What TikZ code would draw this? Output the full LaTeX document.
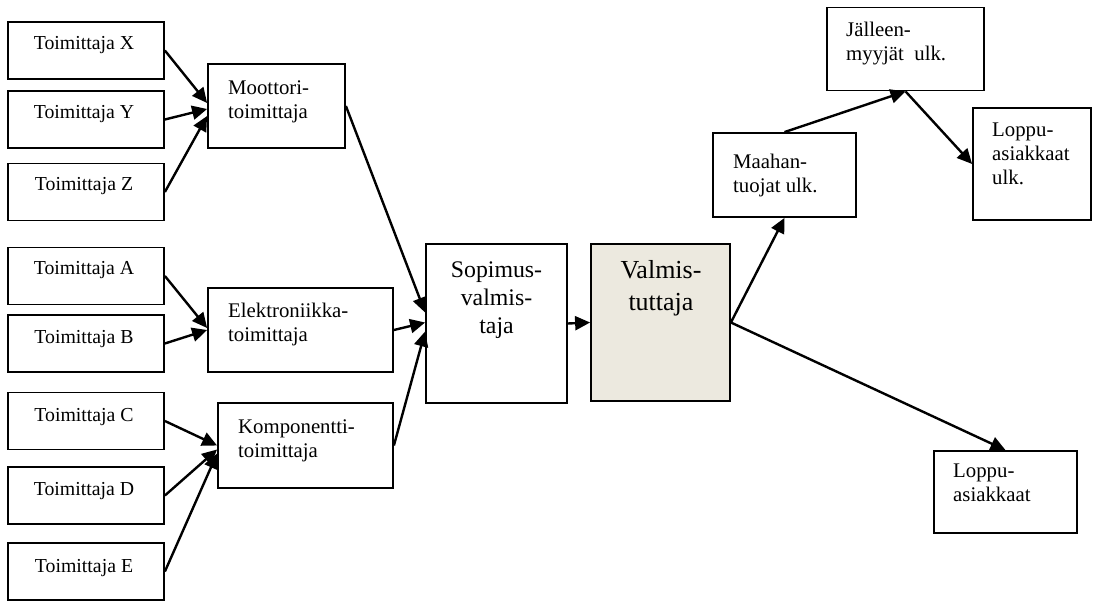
\documentclass[tikz,border=0pt]{standalone}
\usepackage{fontspec}
\setmainfont{Liberation Serif}
\usetikzlibrary{arrows.meta,calc}
\definecolor{beige}{RGB}{236,233,223}
\tikzset{
  box/.style={draw=black, line width=1.8pt, rectangle, inner sep=0pt},
  conn/.style={line width=2.4pt, -{Triangle[length=15pt,width=14pt]}},
  smalltxt/.style={font=\fontsize{19.8}{22}\selectfont, anchor=base, inner sep=0pt},
  midtxt/.style={font=\fontsize{20.8}{24}\selectfont, anchor=base west, inner sep=0pt},
  suptxt/.style={font=\fontsize{23.8}{28}\selectfont, anchor=base, inner sep=0pt},
  bigtxt/.style={font=\fontsize{26}{32}\selectfont, anchor=base, inner sep=0pt},
  sup/.style={box, minimum width=156pt, minimum height=57pt},
}
\begin{document}
\begin{tikzpicture}[x=1pt,y=-1pt]
\useasboundingbox (0,0) rectangle (1094,601);

% suppliers
\node[sup] (tx) at (86,50.5) {};
\node[smalltxt] (txl) at (84,50) {Toimittaja X};
\node[sup] (ty) at (86,119.5) {};
\node[smalltxt] (tyl) at (84,119) {Toimittaja Y};
\node[sup] (tz) at (86,192) {};
\node[smalltxt] (tzl) at (84,191) {Toimittaja Z};
\node[sup] (ta) at (86,276) {};
\node[smalltxt] (tal) at (84,275) {Toimittaja A};
\node[sup] (tb) at (86,343.5) {};
\node[smalltxt] (tbl) at (84,343) {Toimittaja B};
\node[sup] (tc) at (86,421) {};
\node[smalltxt] (tcl) at (84,421) {Toimittaja C};
\node[sup] (td) at (86,495.5) {};
\node[smalltxt] (tdl) at (84,495) {Toimittaja D};
\node[sup] (te) at (86,571.5) {};
\node[smalltxt] (tel) at (84,572) {Toimittaja E};

% second tier
\node[box, minimum width=137pt, minimum height=84pt] (mo) at (276.5,106) {};
\node[midtxt] (mol) at (228,94.5) {\parbox[t]{6cm}{Moottori-\\toimittaja}};
\node[box, minimum width=185pt, minimum height=84pt] (el) at (300.5,330) {};
\node[midtxt] (ell) at (228,318) {\parbox[t]{6cm}{Elektroniikka-\\toimittaja}};
\node[box, minimum width=175pt, minimum height=85pt] (ko) at (305.5,445.5) {};
\node[midtxt] (kol) at (238,433.5) {\parbox[t]{6cm}{Komponentti-\\toimittaja}};

% centre
\node[box, minimum width=141pt, minimum height=159pt] (so) at (496.5,323.5) {};
\node[suptxt] (sol) at (496.5,277.5) {\parbox[t]{4cm}{\centering Sopimus-\\valmis-\\taja}};
\node[box, fill=beige, minimum width=139pt, minimum height=157pt] (va) at (660.5,322.5) {};
\node[bigtxt] (val) at (661,278.5) {\parbox[t]{4cm}{\centering Valmis-\\tuttaja}};

% right side
\node[box, minimum width=143pt, minimum height=84pt] (ma) at (784.5,175) {};
\node[midtxt] (mal) at (733,169) {\parbox[t]{4cm}{Maahan-\\tuojat ulk.}};
\node[box, minimum width=157pt, minimum height=83pt] (je) at (905.5,49) {};
\node[midtxt] (jel) at (846,37) {\parbox[t]{4cm}{Jälleen-\\myyjät~ ulk.}};
\node[box, minimum width=118pt, minimum height=112pt] (lu) at (1032,164) {};
\node[midtxt] (lul) at (992,137) {\parbox[t]{4cm}{Loppu-\\asiakkaat\\ulk.}};
\node[box, minimum width=143pt, minimum height=82pt] (lo) at (1005.5,492) {};
\node[midtxt] (lol) at (953,477.5) {\parbox[t]{4cm}{Loppu-\\asiakkaat}};

% connectors
\draw[conn] (tx.east) -- ($(mo.west)+(0,-3)$);
\draw[conn] (ty.east) -- ($(mo.west)+(0,3)$);
\draw[conn] (tz.east) -- ($(mo.west)+(0,10)$);
\draw[conn] (ta.east) -- ($(el.west)+(0,-2)$);
\draw[conn] (tb.east) -- (el.west);
\draw[conn] (tc.east) -- (ko.west);
\draw[conn] (td.east) -- ($(ko.west)+(0,4)$);
\draw[conn] (te.east) -- ($(ko.west)+(0,8)$);
\draw[conn] (mo.east) -- ($(so.west)+(0,-11)$);
\draw[conn] (el.east) -- ($(so.west)+(0,-1)$);
\draw[conn] (ko.east) -- ($(so.west)+(0,8)$);
\draw[conn] (so.east) -- (va.west);
\draw[conn] (va.east) -- (ma.south);
\draw[conn] (va.east) -- (lo.north);
\draw[conn] (ma.north) -- (je.south);
\draw[conn] (je.south) -- (lu.west);
\end{tikzpicture}
\end{document}
